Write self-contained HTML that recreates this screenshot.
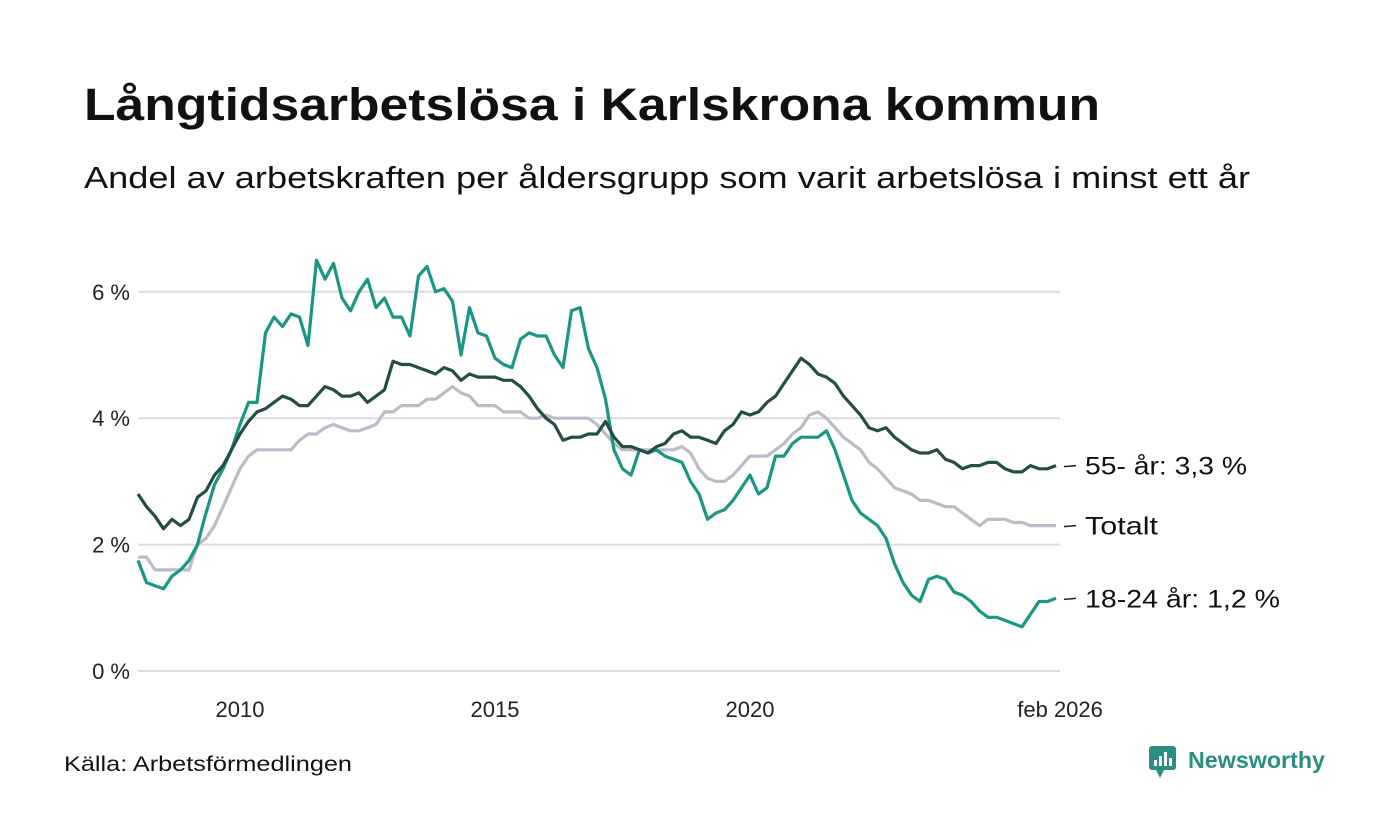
<!DOCTYPE html>
<html><head><meta charset="utf-8"><style>
html,body{margin:0;padding:0;background:#fff;}
svg{display:block;font-family:"Liberation Sans","DejaVu Sans",sans-serif;}
</style></head><body>
<svg id="chart" width="1400" height="840" viewBox="0 0 1400 840" xmlns="http://www.w3.org/2000/svg">
<rect width="1400" height="840" fill="#fff"/>
<text x="84" y="120" font-size="45" font-weight="bold" fill="#111" textLength="1016" lengthAdjust="spacingAndGlyphs">Långtidsarbetslösa i Karlskrona kommun</text>
<text x="84" y="188" font-size="31" fill="#111" textLength="1166" lengthAdjust="spacingAndGlyphs">Andel av arbetskraften per åldersgrupp som varit arbetslösa i minst ett år</text>
<g id="grid"></g>
<g id="series"></g>
<g id="labels"></g>
<text x="64" y="771" font-size="21" fill="#111" textLength="288" lengthAdjust="spacingAndGlyphs">Källa: Arbetsförmedlingen</text>
<g>
<rect x="1149" y="746" width="27" height="24" rx="3" fill="#2a8f80"/>
<polygon points="1156,770 1164,770 1160,778" fill="#2a8f80"/>
<rect x="1154" y="760" width="3" height="6" fill="#fff"/><rect x="1159" y="756" width="3" height="10" fill="#fff"/><rect x="1164" y="752" width="3" height="14" fill="#fff"/><rect x="1169" y="758" width="3" height="8" fill="#fff"/>
<text x="1188" y="768" font-size="23" font-weight="bold" fill="#2a8f80" textLength="137" lengthAdjust="spacingAndGlyphs">Newsworthy</text>
</g>
</svg>
<script>
const startYear = 2008;
const stepYears = 1/6;
const yTicks = [0, 2, 4, 6];
const yTickLabels = ["0 %", "2 %", "4 %", "6 %"];
const xTicks = [2010, 2015, 2020, 2026.08];
const xTickLabels = ["2010", "2015", "2020", "feb 2026"];
const seriesNames = ["Totalt", "55- år", "18-24 år"];
const totalt = [1.8,1.8,1.6,1.6,1.6,1.6, 1.6,2.0,2.1,2.3,2.6,2.9, 3.2,3.4,3.5,3.5,3.5,3.5, 3.5,3.65,3.75,3.75,3.85,3.9, 3.85,3.8,3.8,3.85,3.9,4.1, 4.1,4.2,4.2,4.2,4.3,4.3, 4.4,4.5,4.4,4.35,4.2,4.2, 4.2,4.1,4.1,4.1,4.0,4.0, 4.05,4.0,4.0,4.0,4.0,4.0, 3.9,3.75,3.6,3.5,3.5,3.5, 3.5,3.5,3.5,3.5,3.55,3.45, 3.2,3.05,3.0,3.0,3.1,3.25, 3.4,3.4,3.4,3.5,3.6,3.75, 3.85,4.05,4.1,4.0,3.85,3.7, 3.6,3.5,3.3,3.2,3.05,2.9, 2.85,2.8,2.7,2.7,2.65,2.6, 2.6,2.5,2.4,2.3,2.4,2.4, 2.4,2.35,2.35,2.3,2.3,2.3, 2.3];
const age55 = [2.8,2.6,2.45,2.25,2.4,2.3, 2.4,2.75,2.85,3.1,3.25,3.5, 3.75,3.95,4.1,4.15,4.25,4.35, 4.3,4.2,4.2,4.35,4.5,4.45, 4.35,4.35,4.4,4.25,4.35,4.45, 4.9,4.85,4.85,4.8,4.75,4.7, 4.8,4.75,4.6,4.7,4.65,4.65, 4.65,4.6,4.6,4.5,4.35,4.15, 4.0,3.9,3.65,3.7,3.7,3.75, 3.75,3.95,3.7,3.55,3.55,3.5, 3.45,3.55,3.6,3.75,3.8,3.7, 3.7,3.65,3.6,3.8,3.9,4.1, 4.05,4.1,4.25,4.35,4.55,4.75, 4.95,4.85,4.7,4.65,4.55,4.35, 4.2,4.05,3.85,3.8,3.85,3.7, 3.6,3.5,3.45,3.45,3.5,3.35, 3.3,3.2,3.25,3.25,3.3,3.3, 3.2,3.15,3.15,3.25,3.2,3.2, 3.25];
const age1824 = [1.75,1.4,1.35,1.3,1.5,1.6, 1.75,2.0,2.5,2.95,3.2,3.5, 3.9,4.25,4.25,5.35,5.6,5.45, 5.65,5.6,5.15,6.5,6.2,6.45, 5.9,5.7,6.0,6.2,5.75,5.9, 5.6,5.6,5.3,6.25,6.4,6.0, 6.05,5.85,5.0,5.75,5.35,5.3, 4.95,4.85,4.8,5.25,5.35,5.3, 5.3,5.0,4.8,5.7,5.75,5.1, 4.8,4.3,3.5,3.2,3.1,3.5, 3.45,3.5,3.4,3.35,3.3,3.0, 2.8,2.4,2.5,2.55,2.7,2.9, 3.1,2.8,2.9,3.4,3.4,3.6, 3.7,3.7,3.7,3.8,3.5,3.1, 2.7,2.5,2.4,2.3,2.1,1.7, 1.4,1.2,1.1,1.45,1.5,1.45, 1.25,1.2,1.1,0.95,0.85,0.85, 0.8,0.75,0.7,0.9,1.1,1.1, 1.15];
const endLabels = ["55- år: 3,3 %", "Totalt", "18-24 år: 1,2 %"];
const endLabelWidths = [162, 73, 195];

const NS = "http://www.w3.org/2000/svg";
function xScale(yr){ return 138 + (yr - 2008) * 51; }
function yScale(v){ return 671 - v * 63.2; }
function mk(tag, attrs, parent){ const e=document.createElementNS(NS,tag); for(const k in attrs) e.setAttribute(k, attrs[k]); parent.appendChild(e); return e; }

const grid = document.getElementById('grid');
yTicks.forEach((t,i)=>{
  const l = mk('line',{x1:138,x2:1060,y1:yScale(t),y2:yScale(t),stroke:'#dcdce0','stroke-width':2},grid);
  
  
  const tx = mk('text',{x:130,y:yScale(t)+8,'text-anchor':'end','font-size':22,fill:'#222'},grid);
  tx.textContent = yTickLabels[i];
  
  
});
xTicks.forEach((t,i)=>{
  const tx = mk('text',{x:xScale(t),y:717,'text-anchor':'middle','font-size':22,fill:'#222'},grid);
  tx.textContent = xTickLabels[i];
  
  
});

const ser = document.getElementById('series');
function drawLine(vals, color, name){
  const d = vals.map((v,i)=>(i?'L':'M')+xScale(startYear+i*stepYears).toFixed(1)+','+yScale(v).toFixed(1)).join('');
  const p = mk('path',{d:d,fill:'none',stroke:color,'stroke-width':3.2,'stroke-linejoin':'round'},ser);
  
  
}
drawLine(totalt,'#bdbbc8','line-totalt');
drawLine(age1824,'#1a9684','line-18-24');
drawLine(age55,'#234d45','line-55-plus');

const lab = document.getElementById('labels');
[age55, totalt, age1824].forEach((vals,i)=>{
  const y = yScale(vals[vals.length-1]);
  const l = mk('line',{x1:1064,x2:1076,y1:y+1,y2:y,stroke:'#222','stroke-width':1.5},lab);
  
  
  const tx = mk('text',{x:1085,y:y+9,'font-size':25,fill:'#111',textLength:endLabelWidths[i],lengthAdjust:'spacingAndGlyphs'},lab);
  tx.textContent = endLabels[i];
  
  
});
</script>
</body></html>
